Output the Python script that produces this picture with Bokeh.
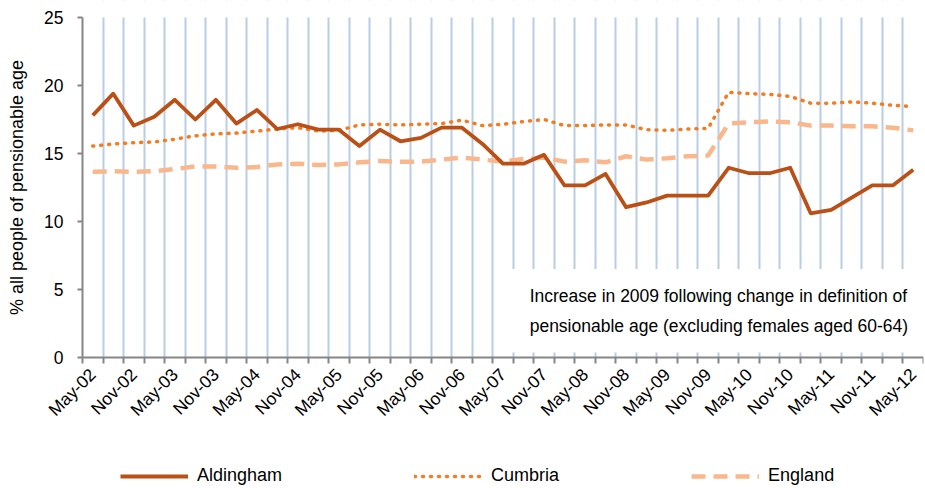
import math
from bokeh.plotting import figure
from bokeh.models import (Range1d, FixedTicker, BoxAnnotation, Label, Legend, LegendItem,
                          ColumnDataSource)
from bokeh.embed import file_html
from bokeh.resources import INLINE

quarters = ["May-02", "Aug-02", "Nov-02", "Feb-03", "May-03", "Aug-03", "Nov-03", "Feb-04",
            "May-04", "Aug-04", "Nov-04", "Feb-05", "May-05", "Aug-05", "Nov-05", "Feb-06",
            "May-06", "Aug-06", "Nov-06", "Feb-07", "May-07", "Aug-07", "Nov-07", "Feb-08",
            "May-08", "Aug-08", "Nov-08", "Feb-09", "May-09", "Aug-09", "Nov-09", "Feb-10",
            "May-10", "Aug-10", "Nov-10", "Feb-11", "May-11", "Aug-11", "Nov-11", "Feb-12",
            "May-12"]

aldingham = [17.8, 19.4, 17.05, 17.7, 18.95, 17.5, 18.95, 17.2, 18.2, 16.8,
             17.15, 16.75, 16.75, 15.55, 16.75, 15.9, 16.15, 16.9, 16.9, 15.7,
             14.25, 14.25, 14.9, 12.65, 12.65, 13.5, 11.05, 11.4, 11.9, 11.9,
             11.9, 13.95, 13.55, 13.55, 13.95, 10.6, 10.85, 11.75, 12.65, 12.65,
             13.8]

cumbria = [15.55, 15.7, 15.8, 15.85, 16.05, 16.3, 16.45, 16.5, 16.65, 16.8,
           16.9, 16.65, 16.7, 17.1, 17.15, 17.1, 17.15, 17.2, 17.45, 17.05,
           17.15, 17.35, 17.5, 17.05, 17.05, 17.1, 17.1, 16.75, 16.7, 16.8,
           16.85, 19.5, 19.4, 19.35, 19.2, 18.7, 18.7, 18.8, 18.7, 18.55,
           18.45]

england = [13.65, 13.7, 13.65, 13.7, 13.85, 14.05, 14.05, 13.95, 14.0, 14.2,
           14.25, 14.15, 14.2, 14.35, 14.45, 14.4, 14.4, 14.55, 14.7, 14.55,
           14.4, 14.6, 14.7, 14.4, 14.5, 14.35, 14.8, 14.55, 14.65, 14.8,
           14.85, 17.2, 17.3, 17.35, 17.3, 17.05, 17.05, 17.0, 17.0, 16.9,
           16.7]

y_ticks = [0, 5, 10, 15, 20, 25]

note_lines = ["Increase in 2009 following change in definition of",
              "pensionable age (excluding females aged 60-64)"]

FONT = "Liberation Sans"
n = len(quarters)
xs = list(range(n))
src = ColumnDataSource(dict(x=xs, q=quarters, a=aldingham, c=cumbria, e=england))

# The frame covers the whole figure; both axes are fixed inside it:
# data area spans x px 82..923 (41 categories) and y px 17..357 (0..25).
PX_PER_CAT = 841 / n
X_MIN = -0.5 - 82 / PX_PER_CAT
PX_PER_UNIT = 340 / 25
Y_MIN = -(488 - 357) / PX_PER_UNIT
Y_MAX = 25 + 17 / PX_PER_UNIT

p = figure(width=925, height=488, output_backend="svg", toolbar_location=None,
           x_range=Range1d(X_MIN, n - 0.5), y_range=Range1d(Y_MIN, Y_MAX),
           min_border_left=0, min_border_right=2, min_border_top=0, min_border_bottom=0)
p.outline_line_color = None
p.background_fill_color = "white"

# grid
p.ygrid.grid_line_color = None
p.xgrid.ticker = FixedTicker(ticks=[i + 0.5 for i in range(n)])
p.xgrid.grid_line_color = "#B9CDE5"
p.xgrid.grid_line_width = 2

# white masks outside 0..25 so the vertical grid stays within the data area
p.add_layout(BoxAnnotation(top=0, fill_color="white", fill_alpha=1.0, line_color=None, level="underlay"))
p.add_layout(BoxAnnotation(bottom=25, fill_color="white", fill_alpha=1.0, line_color=None, level="underlay"))

# x axis (fixed at y = 0)
xa = p.xaxis[0]
xa.fixed_location = 0
xa.bounds = (-0.5, n - 0.5)
xa.ticker = FixedTicker(ticks=list(range(0, n, 2)), minor_ticks=[i - 0.5 for i in range(n + 1)])
xa.major_label_overrides = {i: quarters[i] for i in range(0, n, 2)}
xa.major_label_orientation = math.pi / 4
xa.major_tick_out = 0
xa.major_tick_in = 0
xa.minor_tick_out = 6
xa.minor_tick_in = 0
xa.minor_tick_line_color = "#868686"
xa.minor_tick_line_width = 2
xa.axis_line_color = "#868686"
xa.axis_line_width = 2
xa.major_label_text_font = FONT
xa.major_label_text_font_size = "17.5px"
xa.major_label_text_color = "black"
xa.major_label_standoff = 8

# y axis (fixed at the left category edge)
ya = p.yaxis[0]
ya.fixed_location = -0.5
ya.bounds = (0, 25)
ya.ticker = FixedTicker(ticks=y_ticks)
ya.minor_tick_line_color = None
ya.major_tick_out = 5
ya.major_tick_in = 0
ya.major_tick_line_color = "#868686"
ya.major_tick_line_width = 2
ya.axis_line_color = "#868686"
ya.axis_line_width = 2
ya.major_label_text_font = FONT
ya.major_label_text_font_size = "17.5px"
ya.major_label_text_color = "black"
ya.major_label_standoff = 14
ya.axis_label = "% all people of pensionable age"
ya.axis_label_text_font = FONT
ya.axis_label_text_font_size = "18px"
ya.axis_label_text_font_style = "normal"
ya.axis_label_text_color = "black"
ya.axis_label_standoff = 14

# lines
r_e = p.line("x", "e", source=src, line_color="#FAB78C", line_width=4.5, line_dash="14 8")
r_c = p.line("x", "c", source=src, line_color="#F47B20", line_width=3.5, line_dash="1 7", line_cap="round")
r_a = p.line("x", "a", source=src, line_color="#BB5016", line_width=3.8, line_join="round")

# note box
box = BoxAnnotation(left=20.0, right=n - 0.5, bottom=0.37, top=6.5,
                    fill_color="white", fill_alpha=1.0, line_color=None)
p.add_layout(box)
for k, t in enumerate(note_lines):
    p.add_layout(Label(x=21.3, y=4.55 - 2.25 * k, text=t, text_baseline="middle",
                       text_font=FONT, text_font_size="17.5px", text_color="black"))

legend = Legend(items=[LegendItem(label="Aldingham", renderers=[r_a]),
                       LegendItem(label="Cumbria", renderers=[r_c]),
                       LegendItem(label="England", renderers=[r_e])],
                orientation="horizontal", location=(120, 2),
                glyph_width=68, glyph_height=20, label_standoff=9, spacing=132,
                padding=0, margin=0, border_line_color=None, background_fill_alpha=0,
                label_text_font=FONT, label_text_font_size="18px", label_text_color="black")
p.add_layout(legend, "center")

open("out.html", "w").write(file_html(p, INLINE))
